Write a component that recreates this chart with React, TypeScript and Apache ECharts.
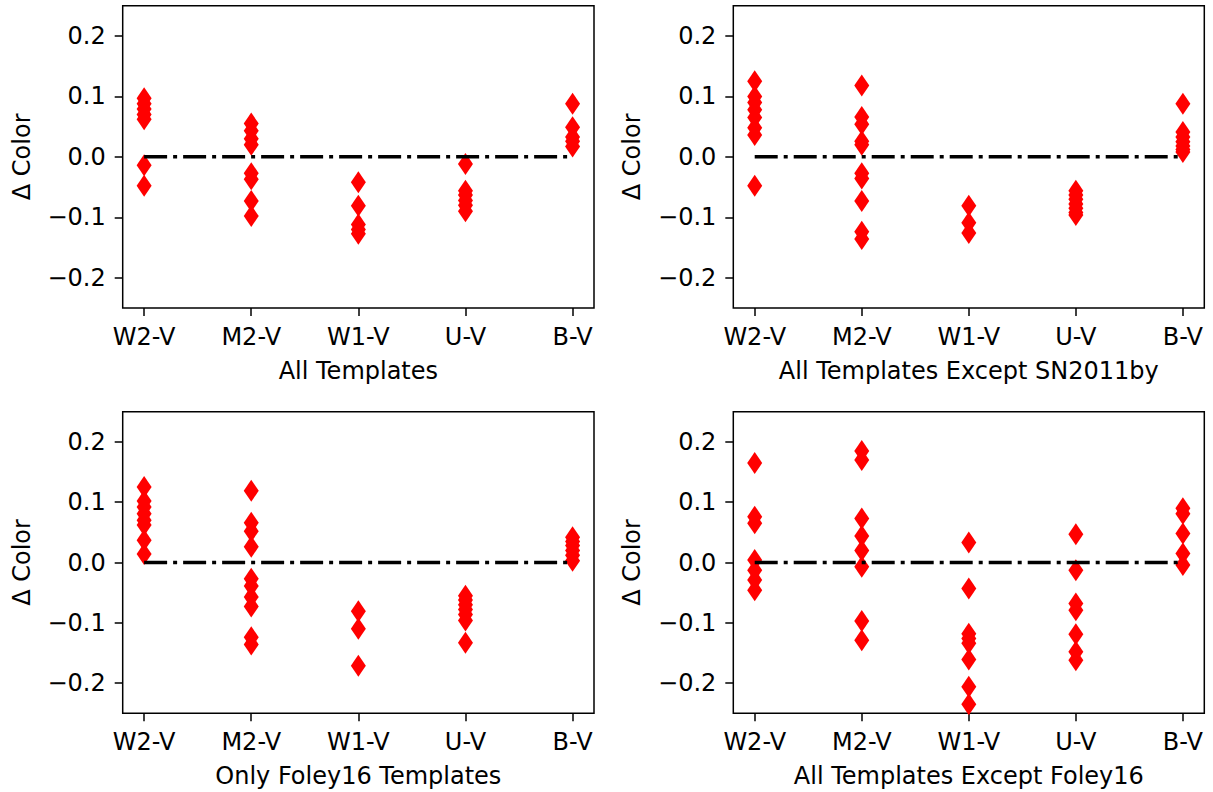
import React, { useEffect, useRef } from "react";
import * as echarts from "echarts";

const categories = ["W2-V", "M2-V", "W1-V", "U-V", "B-V"];
const yTicks = [-0.2, -0.1, 0, 0.1, 0.2];
const titles = [
  "All Templates",
  "All Templates Except SN2011by",
  "Only Foley16 Templates",
  "All Templates Except Foley16",
];

// Panel 1: All Templates
const p1W2V = [0.097, 0.088, 0.079, 0.07, 0.062, -0.014, -0.048];
const p1M2V = [0.055, 0.043, 0.03, 0.02, -0.027, -0.037, -0.073, -0.098];
const p1W1V = [-0.042, -0.081, -0.112, -0.12, -0.127];
const p1UV = [-0.012, -0.056, -0.063, -0.072, -0.08, -0.09];
const p1BV = [0.088, 0.049, 0.033, 0.026, 0.017];

// Panel 2: All Templates Except SN2011by
const p2W2V = [0.125, 0.1, 0.09, 0.078, 0.065, 0.048, 0.036, -0.048];
const p2M2V = [0.118, 0.066, 0.054, 0.026, 0.02, -0.027, -0.036, -0.073, -0.124, -0.136];
const p2W1V = [-0.081, -0.109, -0.126];
const p2UV = [-0.056, -0.063, -0.07, -0.078, -0.085, -0.092, -0.096];
const p2BV = [0.088, 0.041, 0.033, 0.025, 0.018, 0.012, 0.008];

// Panel 3: Only Foley16 Templates
const p3W2V = [0.125, 0.102, 0.092, 0.081, 0.07, 0.062, 0.037, 0.014];
const p3M2V = [0.119, 0.066, 0.052, 0.026, -0.027, -0.039, -0.057, -0.073, -0.124, -0.136];
const p3W1V = [-0.081, -0.11, -0.171];
const p3UV = [-0.055, -0.062, -0.07, -0.078, -0.086, -0.096, -0.133];
const p3BV = [0.042, 0.035, 0.028, 0.02, 0.012, 0.003];

// Panel 4: All Templates Except Foley16
const p4W2V = [0.165, 0.076, 0.065, 0.004, -0.013, -0.029, -0.046];
const p4M2V = [0.185, 0.17, 0.073, 0.044, 0.02, -0.007, -0.097, -0.129];
const p4W1V = [0.033, -0.043, -0.118, -0.126, -0.134, -0.161, -0.206, -0.235];
const p4UV = [0.047, -0.013, -0.068, -0.079, -0.119, -0.148, -0.162];
const p4BV = [0.09, 0.081, 0.048, 0.015, -0.004];

const panels = [
  [p1W2V, p1M2V, p1W1V, p1UV, p1BV],
  [p2W2V, p2M2V, p2W1V, p2UV, p2BV],
  [p3W2V, p3M2V, p3W1V, p3UV, p3BV],
  [p4W2V, p4M2V, p4W1V, p4UV, p4BV],
];

const FONT = "DejaVu Sans";
const FS = 24;

const gridPos = [
  { left: 122.7, top: 5.7, width: 471.3, height: 302.3 },
  { left: 733.3, top: 5.7, width: 471, height: 302.3 },
  { left: 122.7, top: 411.7, width: 471.3, height: 301.6 },
  { left: 733.3, top: 411.7, width: 471, height: 301.6 },
];

export default function App() {
  const ref = useRef<HTMLDivElement>(null);
  useEffect(() => {
    if (!ref.current) return;
    const chart = echarts.init(ref.current, undefined, { renderer: "svg" });
    const xIdx = categories.map((_, i) => i);
    const grid = gridPos.map((g) => ({
      ...g,
      show: true,
      borderColor: "#000",
      borderWidth: 1.5,
      backgroundColor: "#fff",
      containLabel: false,
    }));
    const xAxis = panels.map((_, p) => ({
      type: "value",
      gridIndex: p,
      position: "bottom",
      min: -0.2,
      max: 4.2,
      name: titles[p],
      nameLocation: "middle",
      nameGap: 51,
      nameTextStyle: { fontFamily: FONT, fontSize: FS, color: "#000" },
      splitLine: { show: false },
      axisLine: { show: false, onZero: false },
      axisTick: {
        show: true,
        customValues: xIdx,
        length: 8,
        lineStyle: { color: "#000", width: 1.5 },
      },
      axisLabel: {
        show: true,
        customValues: xIdx,
        margin: 17,
        fontFamily: FONT,
        fontSize: FS,
        color: "#000",
        formatter: (v: number) => categories[Math.round(v)] ?? "",
      },
    }));
    const yAxis = panels.map((_, p) => ({
      type: "value",
      gridIndex: p,
      position: "left",
      min: -0.25,
      max: 0.25,
      name: "Δ Color",
      nameLocation: "middle",
      nameGap: 89,
      nameTextStyle: { fontFamily: FONT, fontSize: FS, color: "#000" },
      splitLine: { show: false },
      axisLine: { show: false, onZero: false },
      axisTick: {
        show: true,
        customValues: yTicks,
        length: 8,
        lineStyle: { color: "#000", width: 1.5 },
      },
      axisLabel: {
        show: true,
        customValues: yTicks,
        margin: 17,
        fontFamily: FONT,
        fontSize: FS,
        color: "#000",
        formatter: (v: number) =>
          (v < -1e-9 ? "\u2212" : "") + Math.abs(v).toFixed(1),
      },
    }));
    const series: any[] = [];
    panels.forEach((cols, p) => {
      const data: number[][] = [];
      cols.forEach((vals, i) => vals.forEach((v) => data.push([i, v])));
      series.push({
        type: "scatter",
        xAxisIndex: p,
        yAxisIndex: p,
        data,
        symbol: "diamond",
        symbolSize: [15, 22],
        itemStyle: { color: "#ff0000", opacity: 1 },
        clip: true,
        z: 2,
      });
      series.push({
        type: "line",
        xAxisIndex: p,
        yAxisIndex: p,
        data: [
          [0, 0],
          [categories.length - 1, 0],
        ],
        symbol: "none",
        lineStyle: { color: "#000", width: 3.5, type: [23, 6, 4, 6], cap: "butt" },
        z: 3,
      });
    });
    chart.setOption({
      animation: false,
      backgroundColor: "#fff",
      textStyle: { fontFamily: FONT },
      grid,
      xAxis,
      yAxis,
      series,
    });
    return () => chart.dispose();
  }, []);
  return (
    <div
      ref={ref}
      style={{ position: "fixed", left: 0, top: 0, width: 1213, height: 792, background: "#fff" }}
    />
  );
}
